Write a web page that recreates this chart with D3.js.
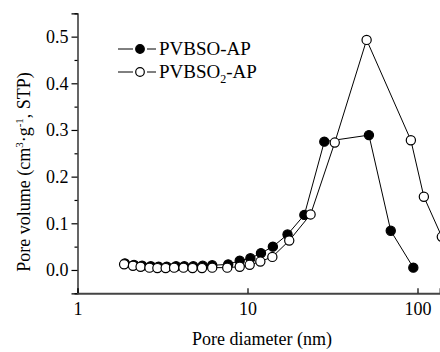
<!DOCTYPE html>
<html><head><meta charset="utf-8">
<script src="https://cdn.jsdelivr.net/npm/d3@7"></script>
<style>body{margin:0;background:#fff}svg{display:block}</style>
</head><body>
<svg id="c" width="440" height="352"></svg>
<script>
// Data
const seriesNames = ["PVBSO-AP", "PVBSO2-AP"];
const diamA = [1.9, 2.15, 2.4, 2.7, 3.0, 3.35, 3.8, 4.25, 4.8, 5.45, 6.2, 7.7, 9.0, 10.4, 12.0, 14.1, 17.2, 21.6, 28.3, 51.8, 69.6, 94.5];
const volA  = [0.014, 0.011, 0.009, 0.008, 0.007, 0.007, 0.008, 0.008, 0.008, 0.009, 0.010, 0.012, 0.020, 0.025, 0.036, 0.050, 0.076, 0.118, 0.275, 0.289, 0.084, 0.005];
const diamB = [1.88, 2.12, 2.35, 2.65, 2.95, 3.3, 3.7, 4.2, 4.75, 5.4, 6.2, 7.6, 9.0, 10.3, 11.9, 14.0, 17.6, 23.5, 32.6, 50.2, 91.4, 109, 139];
const volB  = [0.012, 0.009, 0.007, 0.005, 0.004, 0.004, 0.005, 0.005, 0.004, 0.004, 0.005, 0.005, 0.007, 0.011, 0.018, 0.028, 0.063, 0.119, 0.273, 0.493, 0.278, 0.157, 0.071];
const xTicks = [1, 10, 100];
const yTicks = [0.0, 0.1, 0.2, 0.3, 0.4, 0.5];
const yMinorTicks = [-0.05, 0.05, 0.15, 0.25, 0.35, 0.45, 0.55];

const svg = d3.select("#c");
const font = "'Liberation Serif', 'Times New Roman', serif";
const x0 = 77.5, decade = 170;
const x = d3.scaleLog().domain([1, Math.pow(10, (440 - x0) / decade)]).range([x0, 440]);
const y = d3.scaleLinear().domain([-0.05, 0.55]).range([293.3, 13.3]);

// Axes
const yAxis = d3.axisLeft(y).tickValues(yTicks).tickFormat(d3.format(".1f")).tickSize(6).tickPadding(3);
const gy = svg.append("g").attr("transform", `translate(${x0},0)`).call(yAxis);
gy.select(".domain").attr("stroke", "#000").attr("stroke-width", 1.2);
gy.selectAll(".tick line").attr("stroke", "#000").attr("stroke-width", 1.2);
gy.selectAll(".tick text").attr("font-family", font).attr("font-size", 18).attr("fill", "#000");
const yMinor = d3.axisLeft(y).tickValues(yMinorTicks).tickFormat("").tickSize(3);
const gym = svg.append("g").attr("transform", `translate(${x0},0)`).call(yMinor);
gym.select(".domain").remove();
gym.selectAll(".tick line").attr("stroke", "#000").attr("stroke-width", 1.2);

const xAxis = d3.axisBottom(x).tickValues(xTicks).tickFormat(d3.format("d")).tickSize(-5).tickPadding(9);
const gx = svg.append("g").attr("transform", `translate(0,${y(-0.05)})`).call(xAxis);
gx.select(".domain").attr("stroke", "#444").attr("stroke-width", 2);
gx.selectAll(".tick line").attr("stroke", "#000").attr("stroke-width", 1.2);
gx.selectAll(".tick text").attr("font-family", font).attr("font-size", 18).attr("fill", "#000");

// Titles
svg.append("text").attr("x", 262).attr("y", 345).attr("text-anchor", "middle")
  .attr("font-family", font).attr("font-size", 18).text("Pore diameter (nm)");
const yt = svg.append("text").attr("transform", "translate(30,172) rotate(-90)")
  .attr("text-anchor", "middle").attr("font-family", font).attr("font-size", 18);
yt.append("tspan").text("Pore volume (cm");
yt.append("tspan").attr("font-size", 11).attr("dy", -7).text("3");
yt.append("tspan").attr("dy", 7).text("·g");
yt.append("tspan").attr("font-size", 11).attr("dy", -7).text("-1");
yt.append("tspan").attr("dy", 7).text(", STP)");

// Series
const line = d3.line().x(d => x(d[0])).y(d => y(d[1]));
const series = [
  {pts: d3.zip(diamA, volA), fill: "#000"},
  {pts: d3.zip(diamB, volB), fill: "#fff"}
];
series.forEach(s => {
  svg.append("path").datum(s.pts).attr("d", line).attr("fill", "none").attr("stroke", "#000").attr("stroke-width", 1);
});
series.forEach(s => {
  svg.append("g").selectAll("circle").data(s.pts).join("circle")
    .attr("cx", d => x(d[0])).attr("cy", d => y(d[1])).attr("r", 4.6)
    .attr("fill", s.fill).attr("stroke", "#000").attr("stroke-width", 1.2);
});

// Legend
const legY = [49, 72];
series.forEach((s, i) => {
  const g = svg.append("g");
  g.append("line").attr("x1", 118).attr("x2", 133).attr("y1", legY[i]).attr("y2", legY[i]).attr("stroke", "#000").attr("stroke-width", 1);
  g.append("line").attr("x1", 147).attr("x2", 156).attr("y1", legY[i]).attr("y2", legY[i]).attr("stroke", "#000").attr("stroke-width", 1);
  g.append("circle").attr("cx", 140).attr("cy", legY[i]).attr("r", 4.3).attr("fill", s.fill).attr("stroke", "#000").attr("stroke-width", 1.2);
  const t = g.append("text").attr("x", 159).attr("y", legY[i] + 6).attr("font-family", font).attr("font-size", 19);
  if (i === 0) t.text(seriesNames[0]);
  else {
    t.append("tspan").text("PVBSO");
    t.append("tspan").attr("font-size", 12).attr("dy", 5).text("2");
    t.append("tspan").attr("dy", -5).text("-AP");
  }
});
</script>
</body></html>
